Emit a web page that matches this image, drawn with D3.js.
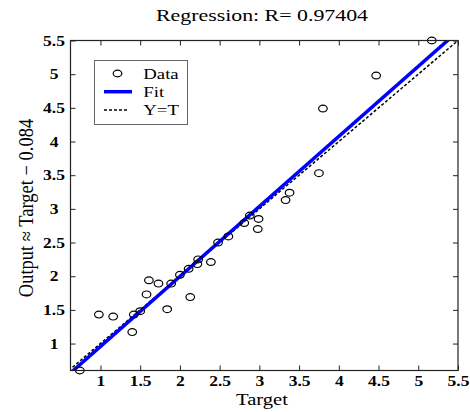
<!DOCTYPE html>
<html><head><meta charset="utf-8">
<script src="https://cdn.jsdelivr.net/npm/d3@7/dist/d3.min.js"></script>
<style>body{margin:0;background:#fff}svg{display:block}</style>
</head><body><svg id="c" width="470" height="412"></svg>
<script>
// ---- data ----
const targets = [0.74,0.98,1.16,1.40,1.42,1.50,1.58,1.61,1.73,1.84,1.89,2.00,2.11,2.13,2.22,2.23,2.39,2.48,2.61,2.81,2.88,2.99,2.98,3.33,3.38,3.75,3.80,4.47,5.17];
const outputs = [0.60,1.43,1.40,1.17,1.43,1.48,1.73,1.94,1.89,1.51,1.89,2.02,2.11,1.69,2.18,2.25,2.21,2.50,2.59,2.79,2.90,2.85,2.70,3.13,3.24,3.53,4.49,4.98,5.50];
const xTicks = [1,1.5,2,2.5,3,3.5,4,4.5,5,5.5];
const yTicks = [1,1.5,2,2.5,3,3.5,4,4.5,5,5.5];
const xDomain = [0.623, 5.5];
const yDomain = [0.6, 5.5];
const fitSlope = 1.04;
const fitIntercept = -0.084;
const titleText = "Regression: R= 0.97404";
const xLabel = "Target";
const yLabel = "Output \u2248 Target \u2212 0.084";
const legendLabels = ["Data", "Fit", "Y=T"];

// ---- layout ----
const W = 470, H = 412;
const m = {left: 70.5, top: 40.5, right: 12, bottom: 41.5};
const SX = 1.25;
const FONT = "'Liberation Serif','Times New Roman',serif";
const svg = d3.select("#c");
const x = d3.scaleLinear().domain(xDomain).range([m.left, W - m.right]);
const y = d3.scaleLinear().domain(yDomain).range([H - m.bottom, m.top]);
const pw = x.range()[1] - x.range()[0], ph = y.range()[0] - y.range()[1];

svg.append("defs").append("clipPath").attr("id","clip")
  .append("rect").attr("x", m.left).attr("y", m.top).attr("width", pw).attr("height", ph);

// axes
const fmt = d => d3.format("")(d);
const gx = svg.append("g").attr("transform", `translate(0,${y.range()[0]})`)
  .call(d3.axisBottom(x).tickValues(xTicks).tickSize(-5).tickSizeOuter(0).tickFormat(fmt));
gx.selectAll("text").attr("y", 6).attr("dy", "0.71em").attr("transform", `scale(${SX},1)`);
const gy = svg.append("g").attr("transform", `translate(${m.left},0)`)
  .call(d3.axisLeft(y).tickValues(yTicks).tickSize(-5).tickSizeOuter(0).tickFormat(fmt));
gy.selectAll("text").attr("x", 0).attr("text-anchor", "middle").attr("dy", "0.34em")
  .attr("transform", `translate(-16.5,0) scale(${SX},1)`);
const gt = svg.append("g").attr("transform", `translate(0,${m.top})`)
  .call(d3.axisTop(x).tickValues(xTicks).tickSize(-5).tickSizeOuter(0).tickFormat(""));
const gr = svg.append("g").attr("transform", `translate(${x.range()[1]},0)`)
  .call(d3.axisRight(y).tickValues(yTicks).tickSize(-5).tickSizeOuter(0).tickFormat(""));
[gx, gy, gt, gr].forEach(g => {
  g.select(".domain").remove();
  g.selectAll("line").attr("stroke", "#222").attr("stroke-width", 1);
  g.selectAll("text").attr("font-family", FONT).attr("font-weight", "bold")
    .attr("font-size", 14).attr("fill", "#000");
});

// lines
const plot = svg.append("g").attr("clip-path", "url(#clip)");
const lo = Math.min(xDomain[0], yDomain[0]), hi = Math.max(xDomain[1], yDomain[1]);
plot.append("line")
  .attr("x1", x(lo)).attr("y1", y(lo)).attr("x2", x(hi)).attr("y2", y(hi))
  .attr("stroke", "#000").attr("stroke-width", 1.5).attr("stroke-dasharray", "3,2");
plot.append("line")
  .attr("x1", x(lo)).attr("y1", y(fitSlope * lo + fitIntercept))
  .attr("x2", x(hi)).attr("y2", y(fitSlope * hi + fitIntercept))
  .attr("stroke", "#0000ff").attr("stroke-width", 3.5);

// points
svg.append("g").selectAll("ellipse").data(targets.map((t, i) => [t, outputs[i]]))
  .join("ellipse")
  .attr("cx", d => x(d[0])).attr("cy", d => y(d[1]))
  .attr("rx", 4.3).attr("ry", 3.4)
  .attr("fill", "none").attr("stroke", "#000").attr("stroke-width", 1.2);

// box
svg.append("rect").attr("x", m.left).attr("y", m.top).attr("width", pw).attr("height", ph)
  .attr("fill", "none").attr("stroke", "#222").attr("stroke-width", 1.2);

// title / labels
function stext(px, py, txt, size) {
  return svg.append("text")
    .attr("transform", `translate(${px},${py}) scale(${SX},1)`)
    .attr("text-anchor", "middle").attr("font-family", FONT).attr("font-size", size)
    .attr("fill", "#000").text(txt);
}
stext(262, 21, titleText, 17.5);
stext(262, 404.5, xLabel, 16.5);
svg.append("text")
  .attr("transform", `translate(33,208) scale(1.1,1) rotate(-90)`)
  .attr("text-anchor", "middle").attr("font-family", FONT).attr("font-size", 18.5)
  .attr("fill", "#000").text(yLabel);

// legend
const lg = svg.append("g");
lg.append("rect").attr("x", 94.5).attr("y", 60.5).attr("width", 93).attr("height", 64)
  .attr("fill", "#fff").attr("stroke", "#666").attr("stroke-width", 1);
lg.append("ellipse").attr("cx", 117.5).attr("cy", 73.5).attr("rx", 4.3).attr("ry", 3.4)
  .attr("fill", "none").attr("stroke", "#000").attr("stroke-width", 1.2);
lg.append("line").attr("x1", 104).attr("x2", 132).attr("y1", 91.7).attr("y2", 91.7)
  .attr("stroke", "#0000ff").attr("stroke-width", 3.5);
lg.append("line").attr("x1", 104).attr("x2", 128).attr("y1", 110).attr("y2", 110)
  .attr("stroke", "#000").attr("stroke-width", 1.5).attr("stroke-dasharray", "3,2");
const lys = [78.5, 97, 115];
legendLabels.forEach((t, i) => {
  lg.append("text").attr("transform", `translate(143.3,${lys[i]}) scale(${SX},1)`)
    .attr("font-family", FONT).attr("font-size", 15).attr("fill", "#000").text(t);
});
</script>
</body></html>
